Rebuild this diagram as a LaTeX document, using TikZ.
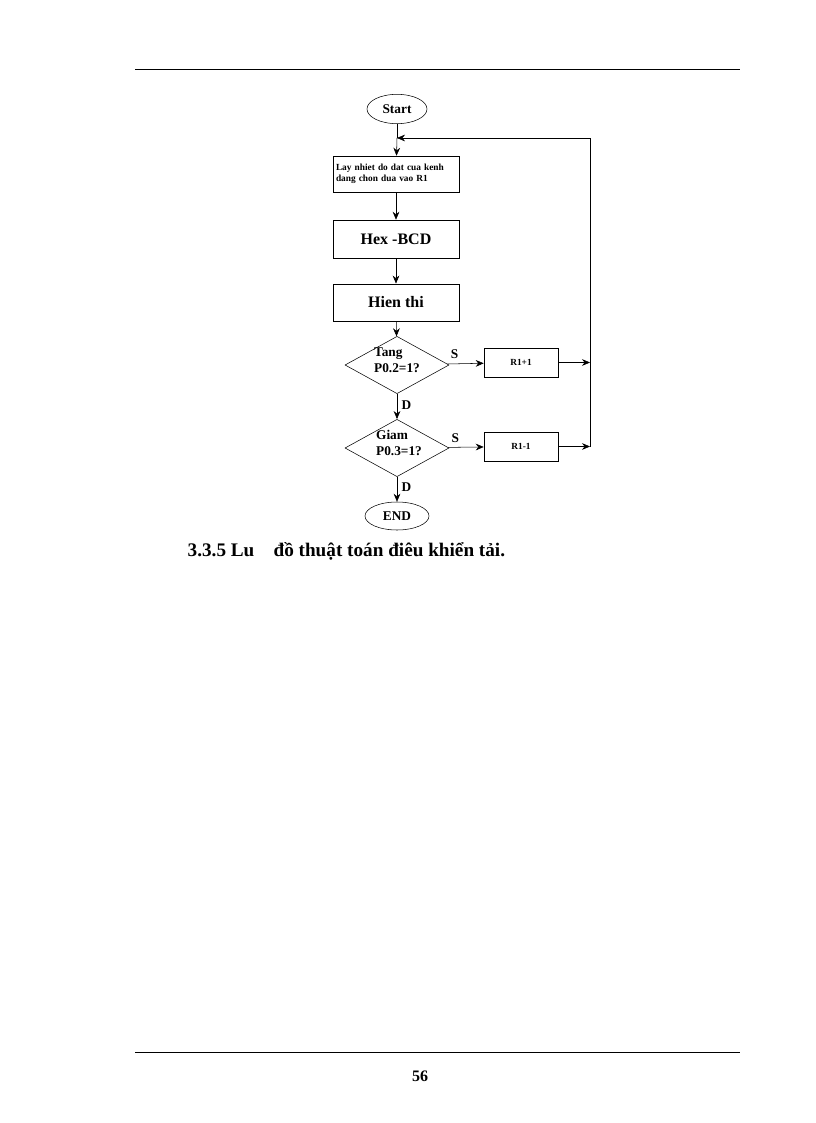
\documentclass[tikz,border=0pt]{standalone}
\usepackage{fontspec}
\setmainfont{Liberation Serif}
\usetikzlibrary{shapes.geometric,arrows.meta}
\begin{document}
\begin{tikzpicture}[x=0.75pt,y=-0.75pt,
 every node/.style={font=\bfseries},
 box/.style={draw,minimum width=94.5pt,inner sep=0pt},
 small/.style={draw,minimum width=55.5pt,minimum height=21.75pt,inner sep=0pt,font=\bfseries\scriptsize},
 term/.style={draw,ellipse,inner sep=0pt},
 dec/.style={draw,diamond,minimum width=78pt,minimum height=43pt,inner sep=0pt,aspect=1.8},
 ar/.style={-{Stealth[length=6pt,width=5pt]}},
 lbl/.style={font=\bfseries}]
\useasboundingbox (0,0) rectangle (816,1123);
\draw (135,69) -- (740,69);
\draw (135,1052) -- (740,1052);
\node (pg) at (420,1076) {\large 56};
\node[term,minimum width=45pt,minimum height=22pt] (start) at (397,109) {Start};
\node[box,minimum height=27pt,align=left,font=\bfseries\scriptsize,text width=90pt] (b1) at (396,174) {Lay nhiet do dat cua kenh\\dang chon dua vao R1};
\node[box,minimum height=28.5pt] (b2) at (396,239) {\large Hex -BCD};
\node[box,minimum height=28pt] (b3) at (396,302.5) {\large Hien thi};
\node[dec] (d1) at (397,365) {};
\node[lbl,align=left,inner sep=0pt] at (397,360) {Tang\\P0.2=1?};
\node[small] (r1) at (521,362.5) {R1+1};
\node[dec] (d2) at (397,448) {};
\node[lbl,align=left,inner sep=0pt] at (399,443) {Giam\\P0.3=1?};
\node[small] (r2) at (521,446.5) {R1-1};
\node[term,minimum width=48pt,minimum height=21pt] (end) at (397,516) {END};
\coordinate (top) at (590,138);
\coordinate (join) at (397,138);
\coordinate (c1) at (590,362.5);
\coordinate (c2) at (590,446.5);
\draw (start) -- (join);
\draw[ar] (join) -- (b1);
\draw[ar] (b1) -- (b2);
\draw[ar] (b2) -- (b3);
\draw[ar] (b3) -- (d1);
\draw[ar] (d1) -- node[lbl,above,pos=0.2]{S} (r1);
\draw[ar] (r1) -- (c1);
\draw[ar] (d1) -- node[lbl,right,pos=0.45]{D} (d2);
\draw[ar] (d2) -- node[lbl,above,pos=0.2]{S} (r2);
\draw[ar] (r2) -- (c2);
\draw[ar] (d2) -- node[lbl,right,pos=0.4]{D} (end);
\draw[ar] (c2) -- (top) -- (join);
\node[anchor=west,font=\bfseries\Large] (cap) at (183,551) {3.3.5 Lu\quad đồ thuật toán điêu khiển tải.};
\end{tikzpicture}
\end{document}
